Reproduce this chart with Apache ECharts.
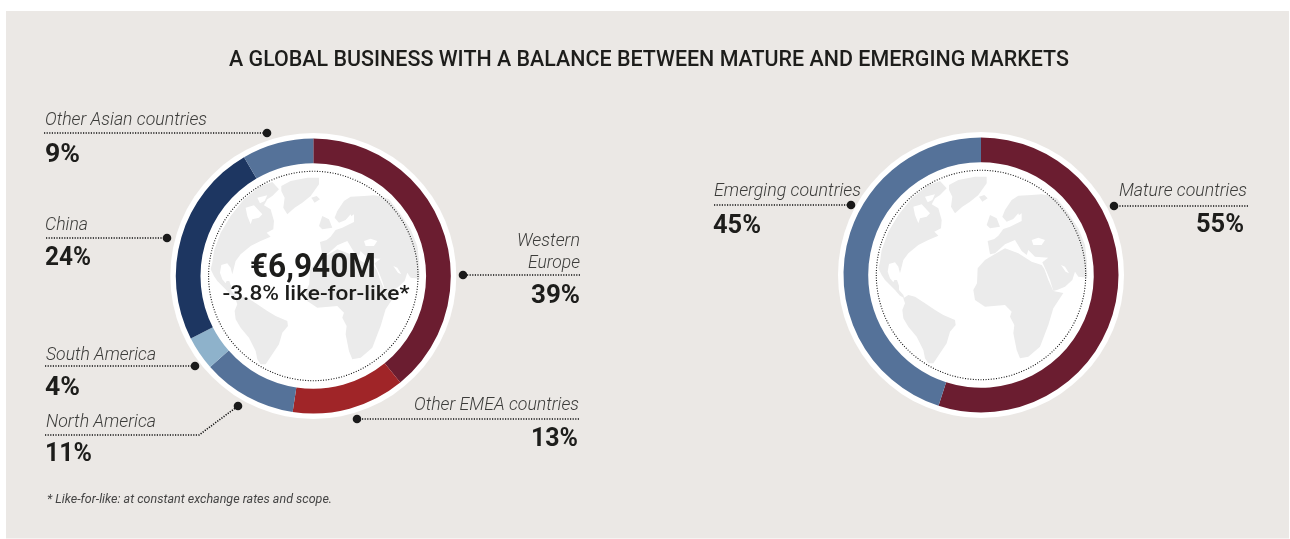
<!DOCTYPE html>
<html><head><meta charset="utf-8">
<style>html,body{margin:0;padding:0;background:#fff}#c{width:1290px;height:539px}</style>
<script src="https://cdn.jsdelivr.net/npm/echarts@6/dist/echarts.min.js"></script>
</head><body><div id="c"></div>
<script>
// ---- data ----
const regionNames = ['Western Europe','Other EMEA countries','North America','South America','China','Other Asian countries'];
// arc shares as drawn in the picture (read from the slice boundaries)
const regionArcs = [39.1,13.3,11.1,4,24.1,8.4];
// percentages as printed next to each slice
const regionLabels = [39,13,11,4,24,9];
const regionColors = ['#6b1d30','#a02528','#557299','#8eb2cb','#1d3661','#557299'];
const marketNames = ['Mature countries','Emerging countries'];
const marketValues = [55,45];
const marketColors = ['#6b1d30','#557299'];
const titleText = 'A GLOBAL BUSINESS WITH A BALANCE BETWEEN MATURE AND EMERGING MARKETS';
const centerValue = '€6,940M';
const centerNote = '-3.8% like-for-like*';
const footnote = '* Like-for-like: at constant exchange rates and scope.';

// ---- layout ----
const C1=[313.3,276], C2=[981,275];
const R={halo:143,outer:137.5,inner:112.8,dots:104.7};
const INK='#1d1d1b', LAND='#ebebeb';
const LIGHT='italic 300 19px Roboto', BOLD='bold 25.5px Roboto';
const labelLayout=[
 {lines:[['Other Asian countries',45,120,'left',162]],pct:[regionLabels[5],45,156,'left',35],line:[[44,133],[267,133]]},
 {lines:[['China',45,225,'left',43]],pct:[regionLabels[4],45,259,'left',46],line:[[46,238],[167,238]]},
 {lines:[['South America',46,355,'left',110]],pct:[regionLabels[3],45,389,'left',35],line:[[45,366],[195,366]]},
 {lines:[['North America',46,422,'left',110]],pct:[regionLabels[2],45,454.5,'left',47],line:[[45,435],[199,435],[238,406]]},
 {lines:[['Western',580,241,'right',63],['Europe',580,263,'right',52]],pct:[regionLabels[0],580,297,'right',49],line:[[580,275],[463,275]]},
 {lines:[['Other EMEA countries',579,405,'right',165]],pct:[regionLabels[1],578,440,'right',47],line:[[579,419],[357,419]]},
 {lines:[['Emerging countries',714,191,'left',147]],pct:[marketValues[1],713,226.5,'left',48],line:[[714,205],[851,205]]},
 {lines:[['Mature countries',1247,191,'right',128]],pct:[marketValues[0],1244,226,'right',48],line:[[1248,206],[1114,206]]}
];

// decorative world map, traced per zoomed crop: [originX, originY, points at 3x]
const landCrops=[
 // Greenland
 [875,165,[222,60,250,45,300,35,335,35,335,55,310,90,285,110,262,125,240,145,228,125,232,95,222,75]],
 // North & Central America
 [875,165,[160,60,195,48,215,70,195,90,180,100,170,118,190,130,200,165,198,190,178,200,190,212,160,225,130,240,100,265,85,285,80,305,75,325,70,305,60,292,42,297,38,320,45,340,55,352,58,345,66,345,72,362,72,375,85,390,88,400,75,392,60,375,45,360,30,345,20,330,10,310,15,290,20,255,40,200,70,150,110,100]],
 // South America
 [875,275,[85,70,100,60,120,65,150,85,180,105,205,120,240,135,242,150,225,170,215,205,195,235,185,250,175,265,160,265,150,250,145,225,125,185,100,155,85,130,82,105,90,85]],
 // Africa
 [985,165,[-24,355,-22,310,0,285,25,270,60,250,100,265,140,290,170,300,178,312,190,345,205,378,235,384,205,430,190,480,165,545,130,575,105,580,95,555,85,505,88,480,75,455,80,440,60,420,0,425,-30,405,-35,375]],
 // Eurasia
 [985,165,[8,228,28,222,40,212,55,192,75,185,90,178,110,168,110,145,85,162,65,170,52,155,60,135,80,105,100,92,140,90,170,88,195,92,215,100,250,145,280,190,300,240,306,290,307,338,280,335,270,320,262,345,240,365,216,375,205,378,195,345,185,320,178,305,172,292,190,278,150,275,130,255,125,270,110,258,90,225,60,238,30,265,15,268]],
 // Great Britain
 [985,165,[15,150,35,160,45,185,15,190,5,180]],
 // Iceland
 [985,165,[-18,95,-2,90,8,100,-8,110]]
];
const seaCrops=[
 // Hudson Bay
 [875,165,[115,125,140,118,165,145,155,155,135,160,130,175,120,150]],
 // Arctic channel
 [875,165,[150,95,180,88,172,105,158,112]],
 // Black Sea
 [985,165,[140,225,160,218,180,225,170,240,145,240]],
 // Persian Gulf
 [985,165,[228,300,240,305,252,325,242,320]],
 // Baltic
 [985,165,[85,162,100,145,105,160,92,172]]
];

// ---- helpers ----
const mctx=document.createElement('canvas').getContext('2d');
function fit(str,font,w){mctx.font=font;return w/mctx.measureText(str).width;}
function txt(str,x,y,align,w,font,fill){
  return {type:'text',x:x,y:y,scaleX:fit(str,font,w),z:50,silent:true,
    style:{text:str,x:0,y:0,font:font,fill:fill||INK,align:align,verticalAlign:'middle'}};
}
function toLocal(crop,c){
  const [ox,oy,p]=crop,pts=[];
  for(let i=0;i<p.length;i+=2)pts.push([ox+p[i]/3-C2[0]+c[0],oy+p[i+1]/3-C2[1]+c[1]]);
  return pts;
}
function globe(c){
  const g=[{type:'circle',z:1,silent:true,shape:{cx:c[0],cy:c[1],r:R.halo},style:{fill:'#fff'}}];
  landCrops.forEach(k=>g.push({type:'polygon',z:2,silent:true,shape:{points:toLocal(k,c)},style:{fill:LAND}}));
  seaCrops.forEach(k=>g.push({type:'polygon',z:3,silent:true,shape:{points:toLocal(k,c)},style:{fill:'#fff'}}));
  g.push({type:'circle',z:4,silent:true,shape:{cx:c[0],cy:c[1],r:R.dots},style:{fill:'none',stroke:'#111',lineWidth:1.1,lineDash:[1,1.6]}});
  return g;
}
function leader(pts){
  const end=pts[pts.length-1];
  return [
   {type:'polyline',z:40,silent:true,shape:{points:pts},style:{fill:'none',stroke:'#111',lineWidth:1.6,lineDash:[1.2,1.4]}},
   {type:'circle',z:41,silent:true,shape:{cx:end[0],cy:end[1],r:4.3},style:{fill:'#1a1a1a'}}
  ];
}
function pie(name,names,values,colors,c){
  return {type:'pie',name:name,center:c,radius:[R.inner,R.outer],startAngle:90,clockwise:true,z:10,
    silent:true,animation:false,label:{show:false},labelLine:{show:false},emphasis:{disabled:true},
    data:names.map((n,i)=>({name:n,value:values[i],itemStyle:{color:colors[i]}}))};
}

const elements=[
 {type:'rect',z:0,silent:true,shape:{x:6,y:11,width:1283,height:527.5},style:{fill:'#ebe8e5'}},
 ...globe(C1),...globe(C2),
 txt(titleText,229,60,'left',840,'500 22px Roboto'),
 txt(centerValue,313,269,'center',126,'bold 33px Roboto'),
 txt(centerNote,316,295,'center',187,'500 21px Roboto'),
 txt(footnote,47,500,'left',285,'italic 12px Roboto','#444')
];
labelLayout.forEach(l=>{
  elements.push(...leader(l.line));
  l.lines.forEach(t=>elements.push(txt(t[0],t[1],t[2],t[3],t[4],LIGHT,'#3c3c3a')));
  const [v,x,y,a,w]=l.pct;
  elements.push(txt(v+'%',x,y,a,w,BOLD));
});

const chart=echarts.init(document.getElementById('c'),null,{renderer:'canvas'});
chart.setOption({
  animation:false,
  backgroundColor:'#fff',
  graphic:{elements:elements},
  series:[
    pie('Regions',regionNames,regionArcs,regionColors,C1),
    pie('Markets',marketNames,marketValues,marketColors,C2)
  ]
});
</script></body></html>
